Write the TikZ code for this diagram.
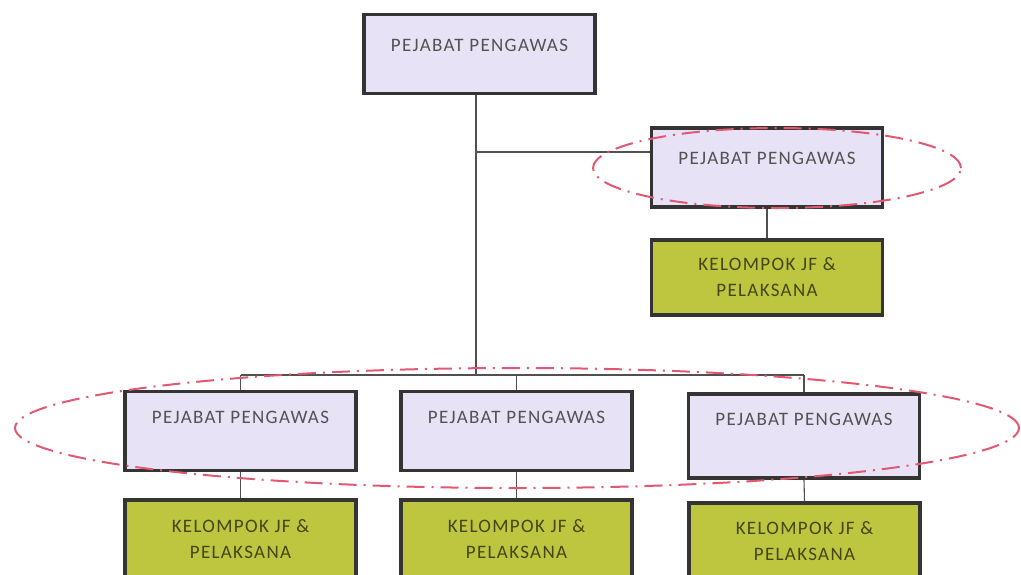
\documentclass[tikz,border=0pt]{standalone}
\usepackage{fontspec}
\setmainfont{Carlito}[LetterSpace=7]
\usetikzlibrary{shapes.geometric}
\definecolor{ppfill}{RGB}{232,226,246}
\definecolor{jffill}{RGB}{190,197,62}
\definecolor{boxline}{RGB}{52,52,52}
\definecolor{pptext}{RGB}{82,82,82}
\definecolor{jftext}{RGB}{70,70,24}
\definecolor{grpline}{RGB}{226,88,112}
\definecolor{connline}{RGB}{80,80,80}
\begin{document}
\begin{tikzpicture}[x=1pt,y=-1pt,
  ppbox/.style={draw=boxline, line width=3.5pt, fill=ppfill, minimum width=231pt, minimum height=79pt, inner sep=0pt},
  jfbox/.style={draw=boxline, line width=3.5pt, fill=jffill, minimum width=231pt, minimum height=75pt, inner sep=0pt, align=center,
     text=jftext, font=\fontsize{19pt}{26pt}\selectfont},
  pplabel/.style={text=pptext, font=\fontsize{19pt}{24pt}\selectfont, inner sep=0pt},
  conn/.style={draw=connline, line width=1.1pt},
  grp/.style={draw=grpline, line width=2pt, ellipse, inner sep=0pt,
     dash pattern=on 18pt off 7pt on 2pt off 7pt}]
\useasboundingbox (0,0) rectangle (1021,574);

% head office
\node[ppbox] (top) at (479.5,54) {};
\node[pplabel] (topt) at (479.5,45) {PEJABAT PENGAWAS};

% branch on the right
\node[ppbox] (rpp) at (767,167.5) {};
\node[pplabel] (rppt) at (767,158) {PEJABAT PENGAWAS};
\node[jfbox] (rjf) at (767,277.5) {KELOMPOK JF \&\\PELAKSANA};

% lower row
\node[ppbox] (pp1) at (240.5,431) {};
\node[pplabel] (pp1t) at (240.5,417) {PEJABAT PENGAWAS};
\node[ppbox] (pp2) at (516.5,431) {};
\node[pplabel] (pp2t) at (516.5,417) {PEJABAT PENGAWAS};
\node[ppbox, minimum height=84pt] (pp3) at (804,436) {};
\node[pplabel] (pp3t) at (804,419) {PEJABAT PENGAWAS};

\node[jfbox, minimum height=78pt] (jf1) at (240.5,539) {KELOMPOK JF \&\\PELAKSANA};
\node[jfbox, minimum height=78pt] (jf2) at (516.5,539) {KELOMPOK JF \&\\PELAKSANA};
\node[jfbox, minimum height=76pt] (jf3) at (804.5,541) {KELOMPOK JF \&\\PELAKSANA};

% connectors
\coordinate (bus) at (476,375);
\coordinate (tap) at (476,152);
\draw[conn] (top.south -| bus) -- (bus);
\draw[conn] (tap) -- (tap -| rpp.west);
\draw[conn] (rpp.south) -- (rjf.north);
\draw[conn] (pp1.north |- bus) -- (pp3.north |- bus);
\draw[conn] (pp1.north |- bus) -- (pp1.north);
\draw[conn] (pp2.north |- bus) -- (pp2.north);
\draw[conn] (pp3.north |- bus) -- (pp3.north);
\draw[conn] (pp1.south) -- (jf1.north);
\draw[conn] (pp2.south) -- (jf2.north);
\draw[conn] (pp3.south) -- (jf3.north);

% grouping outlines
\node[grp, minimum width=368pt, minimum height=80pt] (grpA) at (777,168) {};
\node[grp, minimum width=1004pt, minimum height=120pt] (grpB) at (517,428) {};
\end{tikzpicture}
\end{document}
